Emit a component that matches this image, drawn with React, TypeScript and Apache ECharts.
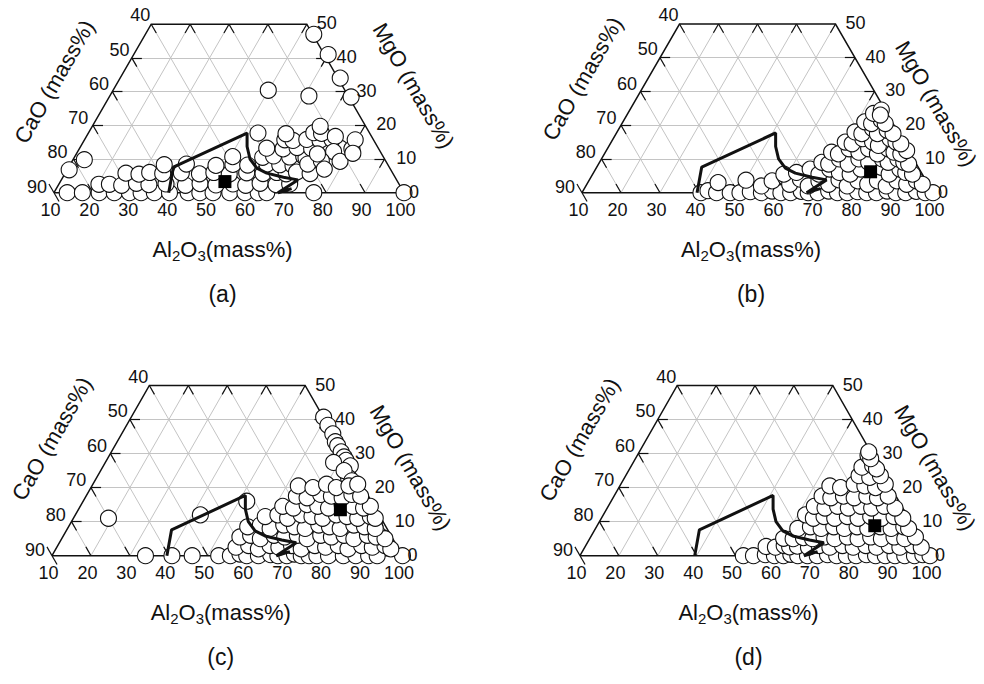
import React, { useEffect, useRef } from "react";
import * as echarts from "echarts";

const S = Math.sqrt(3) / 2;
const FONT = 'Arial, "Liberation Sans", sans-serif';

// Tick values of the three ternary axes
const AL_TICKS = [10, 20, 30, 40, 50, 60, 70, 80, 90, 100];
const CAO_TICKS = [90, 80, 70, 60, 50, 40];
const MGO_TICKS = [0, 10, 20, 30, 40, 50];
const MGO_GRID = [10, 20, 30, 40];
const AL_GRID = [20, 30, 40, 50, 60, 70, 80, 90];
const CAO_GRID = [10, 20, 30, 40, 50, 60, 70, 80];
const PANEL_LABELS = ["(a)", "(b)", "(c)", "(d)"];

// Phase boundary, [Al2O3, MgO] mass%
const BOUNDARY: number[][] = [
  [39.5, 0], [36.9, 7.6], [50.8, 17.7], [52.8, 13.7], [55.4, 10], [58.5, 7.3],
  [61.8, 5.8], [66.7, 4.6], [70.8, 3.8], [67.6, 0], [70.5, 1.2],
];

// Black square (mean composition) for each panel, [Al2O3, MgO]
const SQUARES: number[][] = [[52.3, 3.3], [80.9, 6.2], [77.3, 13.5], [81.4, 8.8]];

// Inclusion compositions, [Al2O3, MgO]
const POINTS_A: number[][] = [
  [10.5, 6.8], [12.9, 9.8],
  [13.4, 0], [17.3, 0], [21.6, 0], [25.5, 0], [29.4, 0], [32.4, 0], [35.8, 0], [39.7, 0], [44.5, 0],
  [47.5, 0], [50.9, 0], [55.2, 0], [59.1, 0], [62.5, 0], [64.7, 0], [76.8, 0], [100, 0],
  [20.3, 2.5], [23, 2.5], [26.3, 2.2], [29.8, 2.8], [33.2, 2.4], [37.5, 2.6], [42.7, 2.2], [46.2, 2.7],
  [50.5, 2.3], [54.7, 2.6], [58.2, 2.2], [61.6, 2.8], [65.9, 2.4], [69.3, 2.6],
  [25.6, 5.8], [29.1, 5.5], [31.6, 6], [35.1, 5.7], [39.8, 5.9], [44.6, 5.6], [48.1, 6], [52.3, 5.5],
  [56.6, 5.9], [60.9, 5.7], [64.3, 6], [66.9, 5.6],
  [34.2, 8.3], [39.8, 8.5], [47.6, 8.1], [51.8, 8.4], [55.7, 8.2], [60.5, 8.5], [63.9, 8.3], [67.4, 8.1],
  [50.6, 10.7], [58.4, 10.5], [61, 10.9], [65.3, 10.6], [68.8, 10.8], [69.6, 10.4],
  [58.1, 13.2], [62.4, 13], [65.8, 13.4], [69.7, 13.1], [72.7, 13.3], [77, 13.2], [80.1, 13],
  [61.5, 15.7], [63.7, 15.5], [67.1, 15.8], [70.6, 15.6], [73.6, 15.8], [79.6, 15.7],
  [53.6, 17.7], [60.9, 17.5], [67.9, 17.8], [70, 17.6], [68.6, 19.7], [74, 16.7], [75.8, 12.2],
  [78.9, 9.3], [81, 11.7], [69.3, 6.1], [73, 5.7], [71, 8.5], [74, 9.5], [76, 7], [72, 11.5],
  [53.3, 47], [60, 41], [66.6, 34], [72.2, 28.4], [49.9, 30.4], [61.2, 28.7],
];

const POINTS_B: number[][] = [
  [40.5, 0], [42, 0.6], [44.5, 0], [48, 0], [50.5, 0], [53, 0.3], [56, 0], [58.5, 0.5], [61, 0], [63.5, 0],
  [66, 0.4], [68, 0], [70.5, 0], [73, 0.5], [75.5, 0], [78, 0], [80.5, 0.3], [83, 0], [85.5, 0], [88, 0.5],
  [90.5, 0], [93, 0], [95.5, 0.4], [98, 0], [100, 0],
  [43.4, 3], [50.2, 3.7], [55, 2], [57, 3.5], [60, 4.5], [62, 2.5], [64, 4], [67, 2], [69, 3.5], [72, 2.5],
  [74, 3.8], [77, 2], [79, 3.5], [82, 2.5], [84, 3.5], [87, 2], [89, 3.5], [92, 2.5], [94, 3.5], [96, 2.5],
  [59, 5.5], [62, 6], [65, 7], [68, 5.5], [70, 7], [73, 6], [76, 5.5], [78, 7], [83, 7.5], [86, 5.5],
  [88, 7], [90, 6], [92, 5.5],
  [67, 9], [69, 8.5], [71, 10], [74, 8.5], [76, 10], [79, 9], [82, 10], [84, 9], [86, 10], [88, 9], [89.5, 8.5],
  [68, 12], [70, 11.5], [72, 13], [75, 12], [77, 13], [80, 11.5], [82, 13], [84, 12], [86, 11.5], [87, 12.5],
  [70, 15], [72, 14.5], [74, 16], [77, 15], [79, 14], [81, 16], [83, 15], [84.5, 14.5],
  [71, 18], [73, 17.5], [75, 19], [77, 17.5], [79, 18.5], [81, 17.5],
  [72, 21], [74, 20.5], [76, 21.5], [77.5, 20.5],
  [73, 23.5], [74.5, 24.5], [75, 23],
];

const POINTS_C: number[][] = [
  [19, 11], [42.1, 12], [52, 16],
  [34, 0], [40.8, 0], [46, 0], [52.8, 0], [55.8, 0], [58, 0.5], [60, 0], [63, 0], [66, 0.3], [68, 0],
  [70.3, 0], [72, 0.5], [74, 0], [76, 0], [78, 0], [81, 0], [84.8, 0], [88, 0], [91.3, 0], [93.5, 0], [100, 0],
  [59.4, 40.7], [61.7, 38.3], [64.2, 35.8], [66, 33.5], [67.2, 32.3], [69, 30.5], [70.5, 29], [71.5, 28],
  [73.4, 26.4], [74.7, 22.9], [68.6, 27.4], [72.5, 25], [76, 22], [77, 20], [79, 18], [81, 16], [83, 14],
  [85, 12], [87, 10], [89, 8], [91, 6],
  [56, 2.5], [59, 3], [62, 2], [64.5, 3], [67, 2.5], [70, 3], [73, 2], [76, 3], [79, 2.5], [82, 3], [85, 2],
  [88, 3], [91, 2.5], [94, 3], [96, 2],
  [55.5, 5.5], [58, 6], [61, 5], [64, 6], [67, 5.5], [70, 6], [73, 5], [76, 6], [79, 5.5], [82, 6], [85, 5],
  [88, 6], [90.5, 5.5], [93, 5],
  [56, 8.5], [59, 9], [62, 8], [65, 9], [68, 8.5], [71, 8], [74, 9], [77, 8.5], [80, 8], [83, 9], [86, 8.5], [89, 8],
  [59, 11.5], [62, 12], [65, 11], [68, 12], [71, 11.5], [74, 11], [77, 12], [80, 11.5], [83, 11], [86, 11.5], [87.5, 11],
  [62, 14.5], [65, 14], [68, 15], [71, 14.5], [74, 14], [77, 15], [80, 14.5], [83, 14], [84.5, 14.5],
  [64, 17.5], [67, 17], [70, 18], [73, 17.5], [76, 17], [78, 18], [80.5, 17.5],
  [63, 20.5], [67, 20], [70, 21], [73, 20], [76, 20.5], [78, 21],
];

const POINTS_D: number[][] = [
  [52, 0], [54.6, 0], [57.5, 0.3], [60, 0], [62.3, 0], [64, 0.4], [66, 0], [68.5, 0], [71, 0], [73.5, 0.3],
  [76, 0], [78.5, 0], [81, 0], [83.5, 0.3], [86, 0], [88.5, 0], [91, 0], [93.5, 0], [96, 0], [98, 0.3], [100, 0],
  [56.5, 2.7], [59, 2.5], [61, 3], [62.6, 2.6], [64.5, 2.8], [67.5, 2.5], [70, 3], [73, 2.5], [76, 3], [79, 2.5],
  [82, 3], [85, 2.5], [88, 3], [91, 2.5], [94, 3], [96.5, 2.5],
  [59.8, 5.1], [62.3, 5], [64.8, 5.3], [67.3, 5], [70, 5.5], [73, 5], [76, 5.5], [79, 5], [82, 5.5], [85, 5],
  [88, 5.5], [91, 5], [93.5, 5.5],
  [62, 8], [65, 8.5], [68, 8], [71, 8.5], [74, 8], [77, 8.5], [80, 8], [83, 8.5], [86, 8], [89, 8.5], [90.5, 8],
  [62, 12], [64.5, 11], [67, 11.5], [70, 11], [73, 11.5], [76, 11], [79, 11.5], [82, 11], [85, 11.5], [87.5, 11],
  [63, 14.5], [66, 14], [69, 14.5], [72, 14], [75, 14.5], [78, 14], [81, 14.5], [84, 14],
  [63.5, 17.5], [66, 17], [69, 17.5], [72, 17], [75, 17.5], [78, 17], [80.5, 17.5],
  [64, 20.5], [67, 20], [70, 21], [73, 20.5], [76, 20], [78, 21],
  [70, 23.5], [73, 23], [75.5, 23.5], [69.5, 26], [72, 26.5], [73.5, 25.5], [69.3, 29.5], [70.5, 28.5], [69, 30.5],
];

const ALL_POINTS = [POINTS_A, POINTS_B, POINTS_C, POINTS_D];

// Grid rectangles (px) of the four panels, and title offsets
const GRIDS = [
  { left: 54, top: 24.2, width: 350, height: 168.5 },
  { left: 582, top: 24, width: 351, height: 168.7 },
  { left: 52, top: 385.5, width: 350.5, height: 170.2 },
  { left: 580, top: 385.5, width: 350, height: 170.2 },
];
const CAO_TITLE_OFF = [[0.4, -111], [0.7, -114], [0, -117], [-0.6, -116]];
const MGO_TITLE_OFF = [[9.5, -107], [3, -89], [8, -88], [5, -88]];

const toCart = (p: number[]) => [p[0] + p[1] / 2, p[1] * S];
const T = 2.6;

function seg(a: number[], b: number[]) {
  return { coords: [toCart(a), toCart(b)] };
}

function buildSeries(i: number) {
  const grid: any[] = [];
  const ticks: any[] = [];
  MGO_GRID.forEach((m) => {
    grid.push(seg([10, m], [100 - m, m]));
    ticks.push(seg([10, m], [10 + T, m]));
    ticks.push(seg([100 - m, m], [100 - m - T, m]));
  });
  AL_GRID.forEach((a) => {
    const mEnd = Math.min(50, 100 - a);
    grid.push(seg([a, 0], [a, mEnd]));
    if (a > 50) ticks.push(seg([a, 100 - a], [a, 100 - a - T]));
    else ticks.push(seg([a, 50], [a, 50 - T]));
  });
  CAO_GRID.forEach((c) => {
    const mEnd = Math.min(50, 90 - c);
    const aEnd = 100 - c - mEnd;
    grid.push(seg([100 - c, 0], [aEnd, mEnd]));
    ticks.push(seg([100 - c, 0], [100 - c - T, T]));
    ticks.push(seg([aEnd, mEnd], [aEnd + T, mEnd - T]));
  });
  ticks.push(seg([10 + T, -T], [10 - T, T]));
  const common = { xAxisIndex: i, yAxisIndex: i, coordinateSystem: "cartesian2d", silent: true };
  return [
    { ...common, type: "lines", z: 1, clip: false, data: grid, lineStyle: { color: "#c4c4c4", width: 1, opacity: 1 } },
    { ...common, type: "lines", z: 2, clip: false, data: ticks, lineStyle: { color: "#111", width: 1.2, opacity: 1 } },
    {
      ...common, type: "lines", z: 2, clip: false, polyline: true,
      data: [{ coords: [[10, 0], [100, 0], [50, 50], [10, 50], [10, 0]].map(toCart) }],
      lineStyle: { color: "#111", width: 1.5, opacity: 1 },
    },
    {
      ...common, type: "scatter", z: 3, clip: false, symbol: "circle", symbolSize: 16,
      data: ALL_POINTS[i].map(toCart),
      itemStyle: { color: "#fff", borderColor: "#111", borderWidth: 1.1, opacity: 1 },
    },
    {
      ...common, type: "line", z: 4, clip: false, showSymbol: false, smooth: false,
      data: BOUNDARY.map(toCart),
      lineStyle: { color: "#111", width: 3 },
    },
    {
      ...common, type: "scatter", z: 5, clip: false, symbol: "rect", symbolSize: 13,
      data: [toCart(SQUARES[i])],
      itemStyle: { color: "#000", opacity: 1 },
    },
  ];
}

export default function App() {
  const ref = useRef<HTMLDivElement>(null);
  useEffect(() => {
    document.body.style.margin = "0";
    const chart = echarts.init(ref.current!, null, { renderer: "svg" });
    const option: any = {
      animation: false,
      backgroundColor: "#fff",
      grid: GRIDS.map((g) => ({ ...g, containLabel: false, show: false })),
      xAxis: GRIDS.map((_, i) => ({ type: "value", gridIndex: i, min: 10, max: 100, show: false })),
      yAxis: GRIDS.map((_, i) => ({ type: "value", gridIndex: i, min: 0, max: 50 * S, show: false })),
      series: [0, 1, 2, 3].flatMap((i) => buildSeries(i)),
    };
    chart.setOption(option);

    const px = (i: number, al: number, mg: number) =>
      chart.convertToPixel({ gridIndex: i } as any, toCart([al, mg])) as number[];
    const txt = (x: number, y: number, text: string, size: number, align = "center", rotation = 0) => ({
      type: "text", x, y, rotation, z: 10, silent: true,
      style: { text, fontSize: size, fontFamily: FONT, fill: "#111", align, verticalAlign: "middle" },
    });
    const els: any[] = [];
    for (let i = 0; i < 4; i++) {
      AL_TICKS.forEach((a) => {
        const p = px(i, a, 0);
        els.push(txt(p[0] - 3.5, p[1] + 17.5, String(a), 18));
      });
      CAO_TICKS.forEach((c) => {
        const m = 90 - c;
        const p = px(i, 10, m);
        els.push(txt(p[0] - 7 + 0.12 * m, p[1] - 6 - 0.06 * m, String(c), 18, "right"));
      });
      MGO_TICKS.forEach((m) => {
        const p = px(i, 100 - m, m);
        els.push(txt(p[0] + (m === 0 ? 5 : 12 - 0.04 * m), p[1] - 1, String(m), 18, "left"));
      });
      const bl = px(i, 10, 0);
      const br = px(i, 100, 0);
      const bm = px(i, 55, 0);
      els.push(txt(bl[0] + CAO_TITLE_OFF[i][0], bl[1] + CAO_TITLE_OFF[i][1], "CaO (mass%)", 22, "center", Math.PI / 3));
      els.push(txt(br[0] + MGO_TITLE_OFF[i][0], br[1] + MGO_TITLE_OFF[i][1], "MgO (mass%)", 22, "center", -Math.PI / 3));
      els.push({
        type: "text", x: bm[0] - 6.5, y: bm[1] + 57, z: 10, silent: true,
        style: {
          text: "{n|Al}{s|2}{n|O}{s|3}{n|(mass%)}",
          fontSize: 22, fontFamily: FONT, fill: "#111", align: "center", verticalAlign: "middle",
          rich: {
            n: { fontSize: 22, lineHeight: 27, fontFamily: FONT, fill: "#111", verticalAlign: "middle" },
            s: { fontSize: 15, lineHeight: 15, fontFamily: FONT, fill: "#111", verticalAlign: "bottom" },
          },
        },
      });
      els.push(txt(bm[0] - 6.5, bm[1] + 101, PANEL_LABELS[i], 23));
    }
    chart.setOption({ graphic: els });
    return () => chart.dispose();
  }, []);
  return <div ref={ref} style={{ width: 984, height: 684 }} />;
}
